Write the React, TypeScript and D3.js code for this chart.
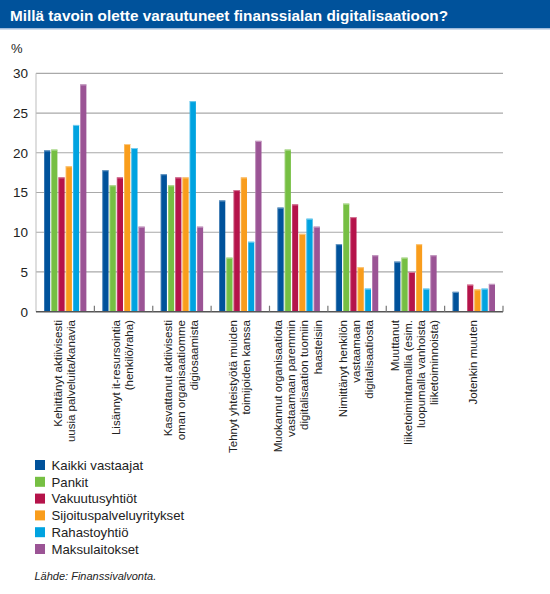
import React from "react";
import * as d3 from "d3";

const title = "Millä tavoin olette varautuneet finanssialan digitalisaatioon?";
const categories: string[][] = [
  ["Kehittänyt aktiivisesti", "uusia palveluita/kanavia"],
  ["Lisännyt it-resursointia", "(henkilö/raha)"],
  ["Kasvattanut aktiivisesti", "oman organisaatiomme", "digiosaamista"],
  ["Tehnyt yhteistyötä muiden", "toimijoiden kanssa"],
  ["Muokannut organisaatiota", "vastaamaan paremmin", "digitalisaation tuomiin", "haasteisiin"],
  ["Nimittänyt henkilön", "vastaamaan", "digitalisaatiosta"],
  ["Muuttanut", "liiketoimintamallia (esim.", "luopumalla vanhoista", "liiketoiminnoista)"],
  ["Jotenkin muuten"],
];
const seriesNames = [
  "Kaikki vastaajat",
  "Pankit",
  "Vakuutusyhtiöt",
  "Sijoituspalveluyritykset",
  "Rahastoyhtiö",
  "Maksulaitokset",
];
const seriesColors = ["#00529b", "#76bf43", "#b5134a", "#f99d1c", "#00a3e0", "#9b5495"];
const kaikki = [20.3, 17.8, 17.3, 14.0, 13.1, 8.5, 6.3, 2.5];
const pankit = [20.4, 15.9, 15.9, 6.8, 20.4, 13.6, 6.8, 0];
const vakuutus = [16.9, 16.9, 16.9, 15.3, 13.5, 11.9, 5.0, 3.4];
const sijoitus = [18.3, 21.1, 16.9, 16.9, 9.8, 5.6, 8.5, 2.8];
const rahasto = [23.5, 20.6, 26.5, 8.8, 11.7, 2.9, 2.9, 2.9];
const maksu = [28.6, 10.7, 10.7, 21.5, 10.7, 7.1, 7.1, 3.5];
const seriesValues = [kaikki, pankit, vakuutus, sijoitus, rahasto, maksu];
const yTicks = [0, 5, 10, 15, 20, 25, 30];
const source = "Lähde: Finanssivalvonta.";

const W = 550;
const H = 594;
const left = 36;
const right = 503;
const top = 73.3;
const bottom = 311.7;
const narrow = "'Liberation Sans Narrow', 'Arial Narrow', 'Liberation Sans', Arial, sans-serif";
const sans = "'Liberation Sans', Arial, Helvetica, sans-serif";

export default function App() {
  const y = d3.scaleLinear().domain([0, 30]).range([bottom, top]);
  const x0 = d3.scaleBand<number>().domain(d3.range(categories.length)).range([left, right]).padding(0);
  const gw = x0.bandwidth();
  const x1 = d3
    .scaleBand<number>()
    .domain(d3.range(seriesNames.length))
    .range([8, gw - 8])
    .paddingInner(0.15)
    .paddingOuter(0);

  return (
    <svg
      width={W}
      height={H}
      style={{ position: "absolute", left: 0, top: 0, background: "#fff" }}
    >
      <rect x={0} y={0} width={W} height={28} fill="#00529b" />
      <rect x={0} y={28} width={W} height={1.5} fill="#9fbbdc" />
      <text
        x={10}
        y={20.5}
        fill="#fff"
        fontFamily={sans}
        fontWeight="bold"
        fontSize={15.4}
        textLength={438}
        lengthAdjust="spacingAndGlyphs"
      >
        {title}
      </text>
      <text x={11} y={53} fontFamily={sans} fontSize={13} fill="#222">
        %
      </text>

      {yTicks.map((t) => (
        <g key={t}>
          {t > 0 && (
            <line x1={left} x2={right} y1={y(t)} y2={y(t)} stroke="#a9a9a9" strokeWidth={1.2} />
          )}
          <text
            x={28}
            y={y(t)}
            dy="0.36em"
            textAnchor="end"
            fontFamily={narrow}
            fontSize={13.5}
            fill="#222"
          >
            {t}
          </text>
        </g>
      ))}
      <line x1={left} x2={left} y1={top} y2={bottom} stroke="#bdbdbd" strokeWidth={1} />

      {categories.map((_, g) => (
        <g key={g} transform={`translate(${x0(g)},0)`}>
          {seriesValues.map((vals, s) => {
            const v = vals[g];
            if (!v) return null;
            const bx = x1(s)!;
            const bw = x1.bandwidth();
            const c = d3.color(seriesColors[s])!;
            const light = d3.interpolateRgb(seriesColors[s], "#ffffff")(0.45);
            return (
              <g key={s}>
                <rect x={bx} y={y(v)} width={bw} height={bottom - y(v)} fill={c.toString()} />
                <rect x={bx} y={y(v)} width={bw} height={1} fill={light} />
                <rect x={bx} y={y(v)} width={0.8} height={bottom - y(v)} fill={light} opacity={0.6} />
              </g>
            );
          })}
        </g>
      ))}

      <line x1={left} x2={right} y1={bottom} y2={bottom} stroke="#555" strokeWidth={1.4} />
      {d3.range(1, categories.length + 1).map((i) => {
        const tx = left + i * gw;
        return <line key={i} x1={tx} x2={tx} y1={bottom} y2={bottom - 6} stroke="#777" strokeWidth={1.2} />;
      })}

      {categories.map((lines, g) => {
        const cx = x0(g)! + gw / 2;
        const n = lines.length;
        return (
          <g key={g}>
            {lines.map((ln, i) => {
              const lx = cx + (i - (n - 1) / 2) * 13.2 - 1;
              return (
                <text
                  key={i}
                  transform={`translate(${lx},320) rotate(-90)`}
                  textAnchor="end"
                  dy="0.35em"
                  fontFamily={narrow}
                  fontSize={11.5}
                  fill="#222"
                >
                  {ln}
                </text>
              );
            })}
          </g>
        );
      })}

      {seriesNames.map((name, i) => {
        const ly = 460 + i * 16.8;
        return (
          <g key={name}>
            <rect x={35} y={ly} width={10} height={10} fill={seriesColors[i]} />
            <text x={51.5} y={ly + 9.8} fontFamily={sans} fontSize={13.2} fill="#222">
              {name}
            </text>
          </g>
        );
      })}
      <text x={34.5} y={580} fontFamily={sans} fontStyle="italic" fontSize={11} fill="#222">
        {source}
      </text>
    </svg>
  );
}
